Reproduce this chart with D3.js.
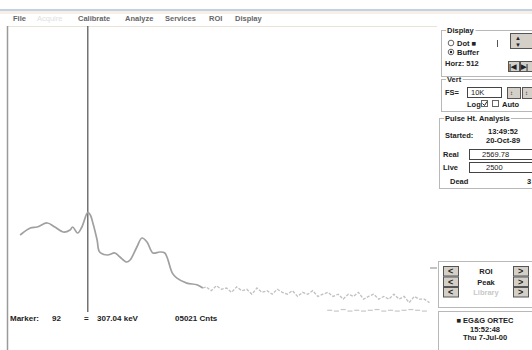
<!DOCTYPE html>
<html><head><meta charset="utf-8">
<script src="https://cdn.jsdelivr.net/npm/d3@7"></script>
<style>
html,body{margin:0;padding:0;background:#fff;}
svg text{font-family:"Liberation Sans",Arial,sans-serif;}
</style></head>
<body><div id="chart"></div>
<script>
// ---- data ----
const menuItems = ["File","Acquire","Calibrate","Analyze","Services","ROI","Display"];
const headChannels = [12,24,32,44,53,63,71,74,80,85,92,95,98,103,106,115,124,130,138,142,150,156,162,169,177,183,192,197,209,221,228];
const headCounts   = [780,1390,1510,2100,1510,1000,1180,1510,920,1510,5021,4050,2100,520,193,151,178,128,85,100,291,611,439,178,193,178,34,23,15,13,10];
const tailChannels = [232,238,244,250,256,262,268,274,280,286,292,298,304,310,316,322,328,334,340,346,352,358,364,370,376,382,388,394,400,406,412,418,424,430,436,442,448,454,460,466,472,478,484,490,496];
const tailCounts   = [11,8,12,9,10,7,11,8,9,6,10,7,8,6,9,7,6,8,5,7,6,8,5,6,7,5,6,4,6,5,7,4,5,6,4,5,4,6,4,5,3,5,4,4,3];
const lowChannels  = [378,386,394,402,410,418,426,434,442,450,458,466,474,482,490];
const lowCounts    = [1.6,1.5,1.7,1.5,1.6,1.5,1.6,1.7,1.5,1.6,1.5,1.6,1.7,1.6,1.5];
const markerChannel = 92;
const markerEnergy = "307.04 keV";
const markerCounts = "05021 Cnts";
const horzChannels = 512;
const fullScale = "10K";
const startedTime = ["13:49:52","20-Oct-89"];
const realTime = "2569.78", liveTime = "2500", deadPct = "3";
const clockLines = ["\u25A0 EG&G ORTEC","15:52:48","Thu  7-Jul-00"];
const roiRows = ["ROI","Peak","Library"];

const W=532,H=350;
const svg=d3.select("#chart").append("svg").attr("width",W).attr("height",H);
svg.append("rect").attr("width",W).attr("height",H).attr("fill","#fff");

// window chrome
svg.append("rect").attr("x",0).attr("y",9).attr("width",W).attr("height",2).attr("fill","#c2d2e2");
svg.append("rect").attr("x",0).attr("y",11).attr("width",W).attr("height",3).attr("fill","#f5efe6");
svg.append("line").attr("x1",8).attr("x2",437).attr("y1",26.5).attr("y2",26.5).attr("stroke","#e8e2d8");
const menuX=[13,37,78,125,165,209,235];
menuItems.forEach((m,i)=>{
  svg.append("text").attr("x",menuX[i]).attr("y",21).attr("font-size",7.5).attr("font-weight",i===1?"normal":"bold")
    .attr("fill",i===1?"#e0e0e0":"#666").text(m);
});
// left border
svg.append("line").attr("x1",7.5).attr("x2",7.5).attr("y1",26).attr("y2",350).attr("stroke","#9a9a9a").attr("stroke-width",1.5);

// scales
const x=d3.scaleLinear().domain([0,horzChannels]).range([10,443]);
const y=d3.scaleLog().domain([1,1e10]).range([316,36]);

// marker
svg.append("line").attr("x1",x(markerChannel)).attr("x2",x(markerChannel))
  .attr("y1",26).attr("y2",312).attr("stroke","#505050").attr("stroke-width",1.2);

const line=d3.line().x(d=>x(d[0])).y(d=>y(d[1])).curve(d3.curveCatmullRom.alpha(0.5));
const head=headChannels.map((c,i)=>[c,headCounts[i]]);
const tail=[head[head.length-1]].concat(tailChannels.map((c,i)=>[c,tailCounts[i]]));
svg.append("path").attr("d",line(head)).attr("fill","none").attr("stroke","#a0a0a0").attr("stroke-width",1.7);
svg.append("path").attr("d",d3.line().x(d=>x(d[0])).y(d=>y(d[1]))(tail)).attr("fill","none")
  .attr("stroke","#c0c0c0").attr("stroke-width",1.3).attr("stroke-dasharray","3,1.5");
svg.selectAll(".low").data(lowChannels.map((c,i)=>[c,lowCounts[i]])).enter().append("line")
  .attr("x1",d=>x(d[0])-2.5).attr("x2",d=>x(d[0])+2.5).attr("y1",d=>y(d[1])).attr("y2",d=>y(d[1]))
  .attr("stroke","#c8c8c8").attr("stroke-width",1.2);

// status line
const st=svg.append("g").attr("font-size",8).attr("font-weight","bold").attr("fill","#222");
st.append("text").attr("x",10).attr("y",321).text("Marker:");
st.append("text").attr("x",52).attr("y",321).text(String(markerChannel));
st.append("text").attr("x",84).attr("y",321).text("=");
st.append("text").attr("x",97).attr("y",321).text(markerEnergy);
st.append("text").attr("x",175).attr("y",321).text(markerCounts);

// right panel
const P=svg.append("g").attr("font-size",7.5).attr("font-weight","bold").attr("fill","#222");
function gbox(x0,y0,w,h,title){
  P.append("rect").attr("x",x0+.5).attr("y",y0+.5).attr("width",w).attr("height",h).attr("fill","none").attr("stroke","#b8b8b8");
  const t=P.append("text").attr("x",x0+6).attr("y",y0+3).text(title);
  const bb=t.node().getBBox();
  P.insert("rect","text:last-child").attr("x",bb.x-1).attr("y",y0-1).attr("width",bb.width+2).attr("height",3).attr("fill","#fff");
}
function btn(x0,y0,w,h){
  P.append("rect").attr("x",x0+.5).attr("y",y0+.5).attr("width",w).attr("height",h).attr("fill","#d4d0c8").attr("stroke","#555");
}
gbox(441,30,95,46,"Display");
P.append("circle").attr("cx",451).attr("cy",43).attr("r",2.8).attr("fill","#fff").attr("stroke","#666");
P.append("text").attr("x",457).attr("y",46).text("Dot \u25A0");
P.append("line").attr("x1",497.5).attr("x2",497.5).attr("y1",40).attr("y2",47).attr("stroke","#555");
P.append("circle").attr("cx",451).attr("cy",52).attr("r",2.8).attr("fill","#fff").attr("stroke","#666");
P.append("circle").attr("cx",451).attr("cy",52).attr("r",1.2).attr("fill","#222");
P.append("text").attr("x",457).attr("y",55).text("Buffer");
P.append("text").attr("x",445).attr("y",66).text("Horz: "+horzChannels);
btn(510,33,24,15);
P.append("text").attr("x",515).attr("y",40).attr("font-size",6).text("\u25B2");
P.append("text").attr("x",515).attr("y",47).attr("font-size",6).text("\u25BC");
btn(508,61,11,10); btn(520,61,13,10);
P.append("text").attr("x",509).attr("y",69).attr("font-size",7).text("|\u25C0");
P.append("text").attr("x",521).attr("y",69).attr("font-size",7).text("\u25B6|");

gbox(441,79,95,32,"Vert");
P.append("text").attr("x",445).attr("y",95).text("FS=");
P.append("rect").attr("x",467.5).attr("y",87.5).attr("width",34).attr("height",10).attr("fill","#fff").attr("stroke","#444");
P.append("text").attr("x",471).attr("y",95).attr("font-weight","normal").text(fullScale);
btn(507,87,13,11); btn(522,87,13,11);
P.append("text").attr("x",510).attr("y",95).attr("font-size",6).text("\u2195");
P.append("text").attr("x",525).attr("y",95).attr("font-size",6).text("\u2195");
P.append("text").attr("x",467).attr("y",107).text("Log");
P.append("rect").attr("x",481.5).attr("y",100.5).attr("width",6).attr("height",6).attr("fill","#fff").attr("stroke","#666");
P.append("path").attr("d","M482.5,103.5 L484.5,105.5 L487,101.5").attr("fill","none").attr("stroke","#222");
P.append("rect").attr("x",492.5).attr("y",100.5).attr("width",6).attr("height",6).attr("fill","#fff").attr("stroke","#666");
P.append("text").attr("x",502).attr("y",107).text("Auto");

gbox(439,118,97,70,"Pulse Ht. Analysis");
P.append("text").attr("x",445).attr("y",138).text("Started:");
P.append("text").attr("x",488).attr("y",134).text(startedTime[0]);
P.append("text").attr("x",486).attr("y",143).text(startedTime[1]);
P.append("text").attr("x",443).attr("y",157).text("Real");
P.append("rect").attr("x",469.5).attr("y",149.5).attr("width",64).attr("height",10).attr("fill","#fff").attr("stroke","#444");
P.append("text").attr("x",482).attr("y",157).attr("font-weight","normal").text(realTime);
P.append("text").attr("x",443).attr("y",170).text("Live");
P.append("rect").attr("x",469.5).attr("y",162.5).attr("width",64).attr("height",10).attr("fill","#fff").attr("stroke","#444");
P.append("text").attr("x",486).attr("y",170).attr("font-weight","normal").text(liveTime);
P.append("text").attr("x",450).attr("y",184).text("Dead");
P.append("text").attr("x",527).attr("y",184).text(deadPct);

// ROI panel
P.append("rect").attr("x",438.5).attr("y",261.5).attr("width",96).attr("height",46).attr("fill","none").attr("stroke","#b8b8b8");
roiRows.forEach((r,i)=>{
  const yy=266+i*10.5;
  btn(443,yy,15,9.5); btn(513,yy,15,9.5);
  P.append("text").attr("x",448).attr("y",yy+8).attr("font-size",9).text("<");
  P.append("text").attr("x",518).attr("y",yy+8).attr("font-size",9).text(">");
  P.append("text").attr("x",486).attr("y",yy+8).attr("text-anchor","middle").attr("fill",i===2?"#c8c8c8":"#222").text(r);
});
P.append("line").attr("x1",430).attr("x2",437).attr("y1",268).attr("y2",268).attr("stroke","#888");
// clock panel
P.append("rect").attr("x",438.5).attr("y",311.5).attr("width",96).attr("height",42).attr("fill","none").attr("stroke","#b8b8b8");
clockLines.forEach((t,i)=>{
  P.append("text").attr("x",485).attr("y",323+i*8.7).attr("text-anchor","middle").text(t);
});
</script></body></html>
